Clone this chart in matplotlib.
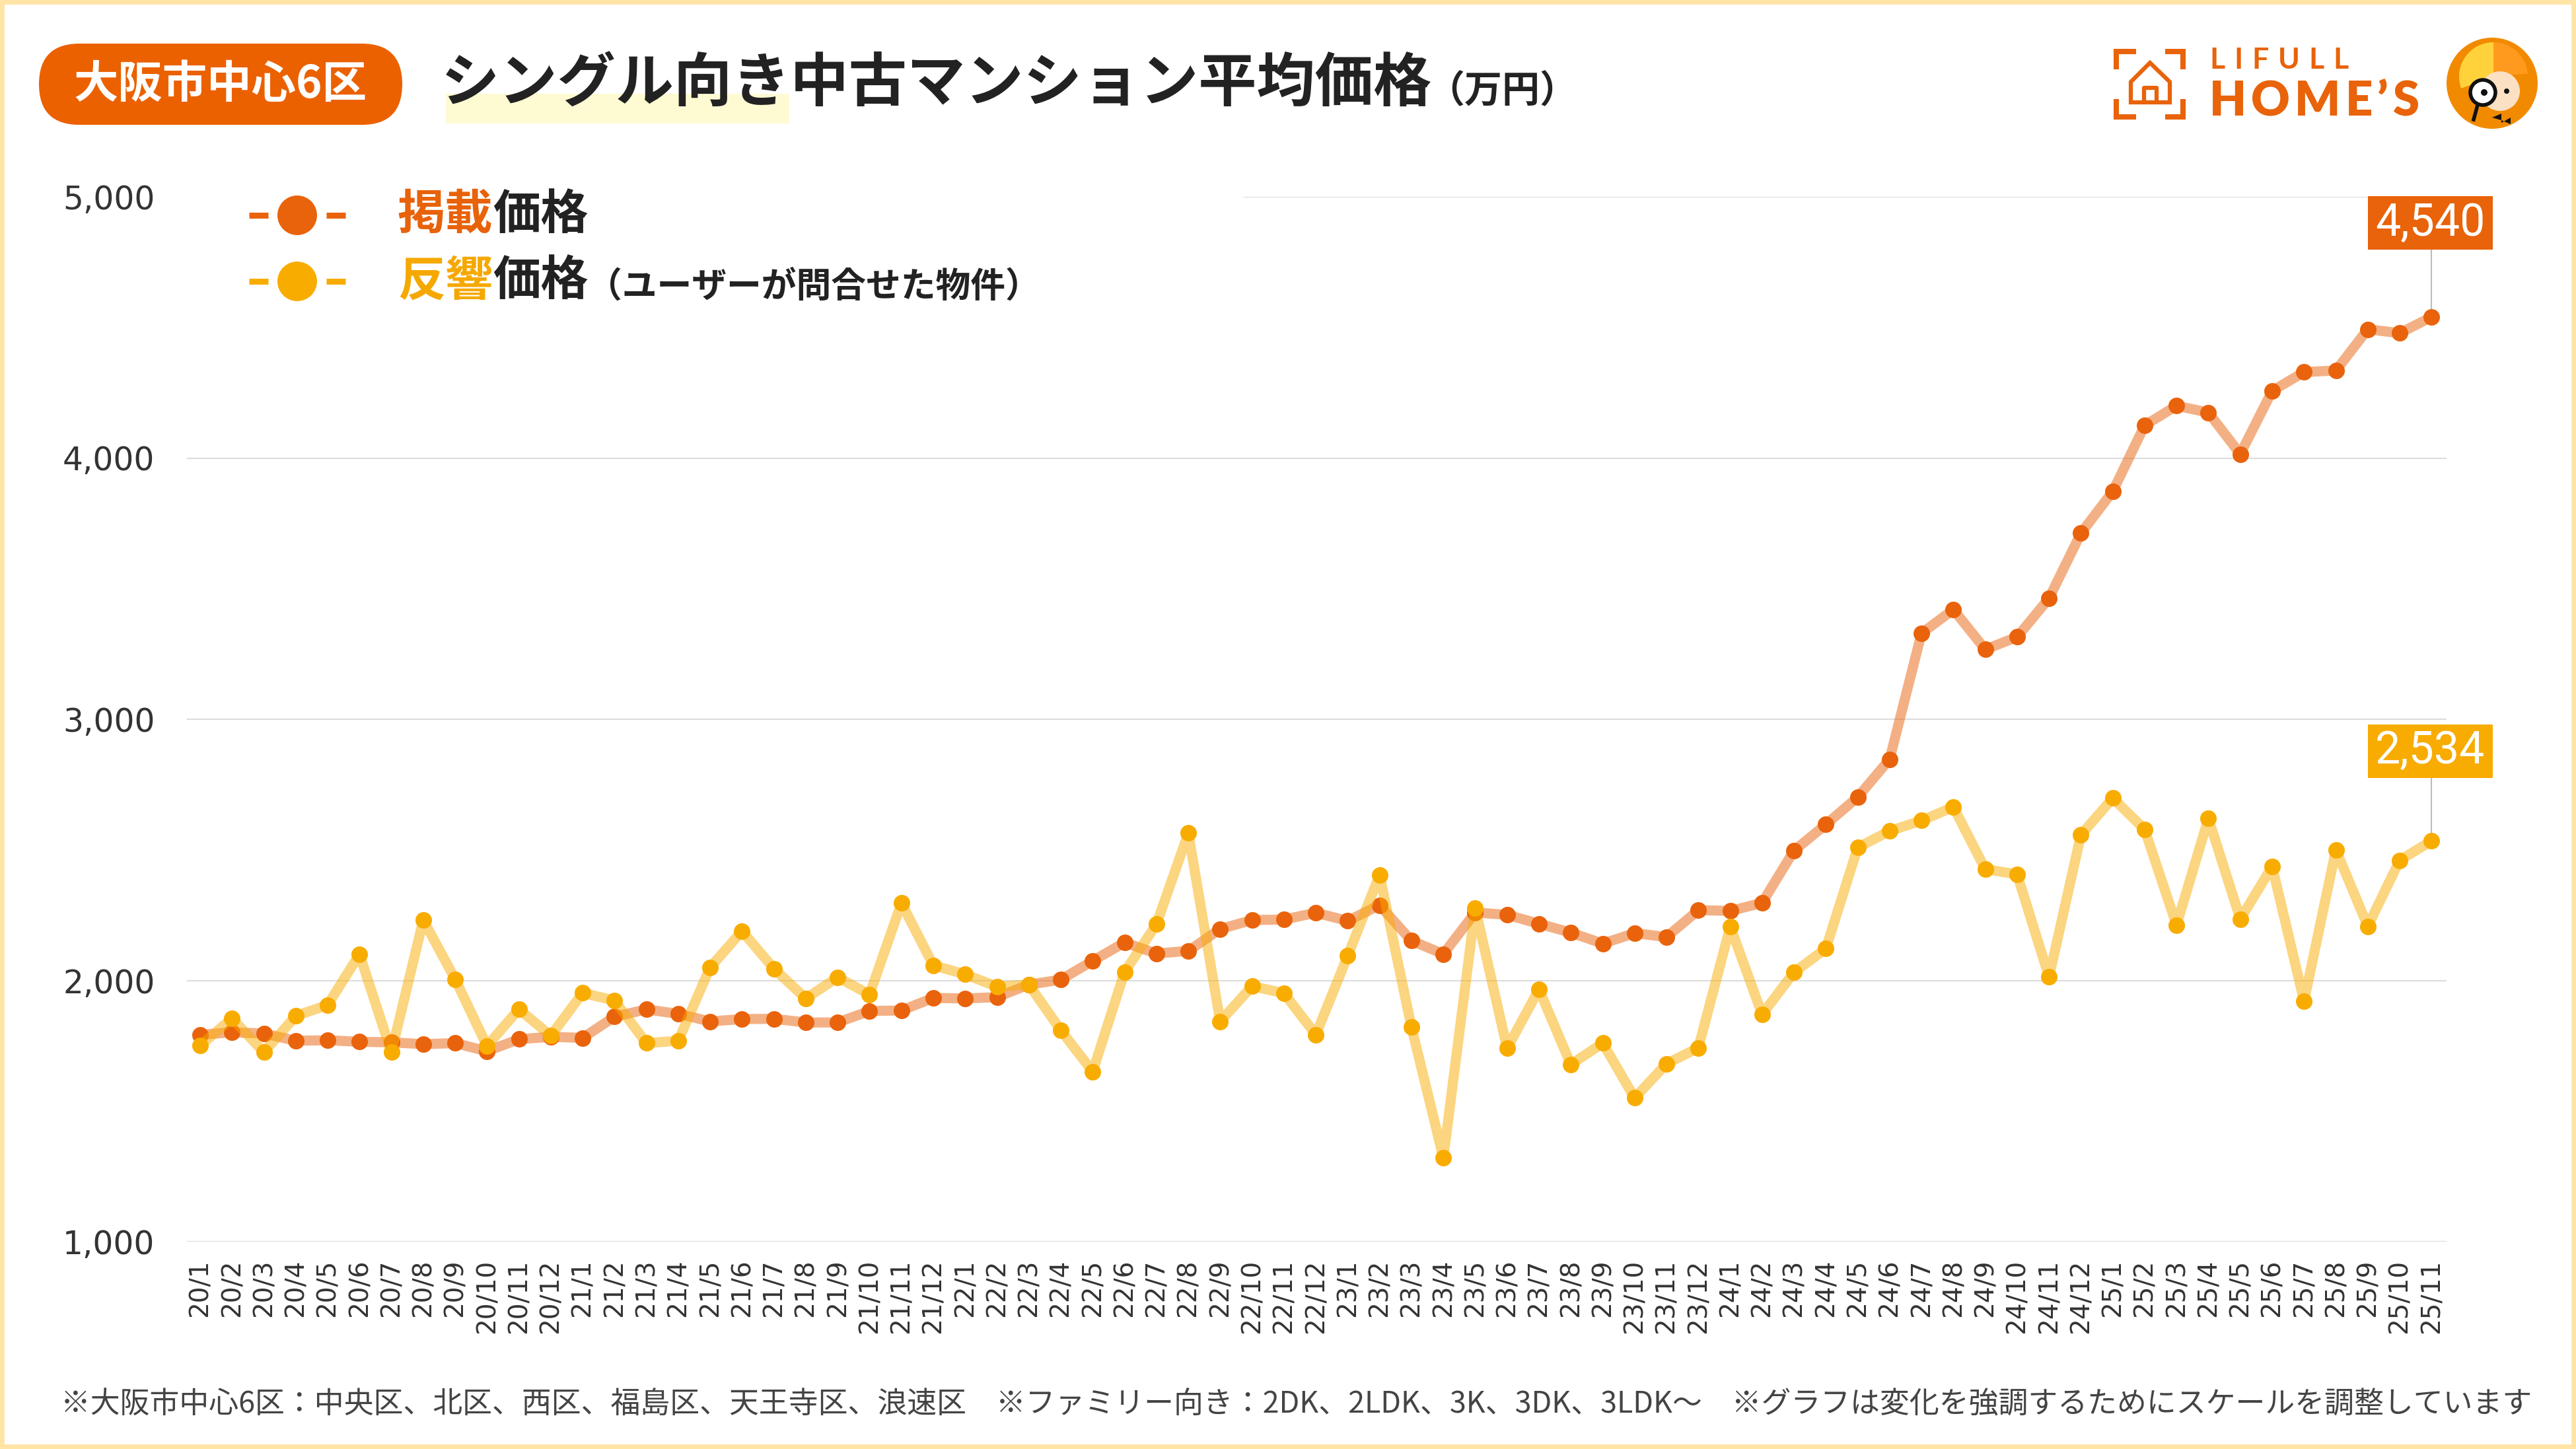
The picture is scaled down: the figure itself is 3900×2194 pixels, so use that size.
import matplotlib
matplotlib.use('Agg')
import matplotlib.pyplot as plt
from matplotlib.patches import FancyBboxPatch, Rectangle, Circle, Wedge, Polygon
from matplotlib.lines import Line2D
from matplotlib.transforms import IdentityTransform

plt.rcParams['font.family'] = ['Noto Sans CJK JP', 'DejaVu Sans']

# ---------------- data ----------------
months = [
    "20/1", "20/2", "20/3", "20/4", "20/5", "20/6", "20/7", "20/8", "20/9", "20/10", "20/11", "20/12",
    "21/1", "21/2", "21/3", "21/4", "21/5", "21/6", "21/7", "21/8", "21/9", "21/10", "21/11", "21/12",
    "22/1", "22/2", "22/3", "22/4", "22/5", "22/6", "22/7", "22/8", "22/9", "22/10", "22/11", "22/12",
    "23/1", "23/2", "23/3", "23/4", "23/5", "23/6", "23/7", "23/8", "23/9", "23/10", "23/11", "23/12",
    "24/1", "24/2", "24/3", "24/4", "24/5", "24/6", "24/7", "24/8", "24/9", "24/10", "24/11", "24/12",
    "25/1", "25/2", "25/3", "25/4", "25/5", "25/6", "25/7", "25/8", "25/9", "25/10", "25/11",
]
listing_price = [
    1792, 1801, 1797, 1769, 1771, 1765, 1763, 1756, 1760, 1729, 1775, 1784,
    1780, 1861, 1889, 1872, 1843, 1852, 1853, 1839, 1839, 1883, 1885, 1933,
    1931, 1936, 1984, 2003, 2075, 2145, 2103, 2113, 2197, 2231, 2233, 2259,
    2228, 2288, 2152, 2101, 2260, 2251, 2217, 2183, 2141, 2181, 2166, 2269,
    2266, 2297, 2497, 2597, 2702, 2847, 3329, 3420, 3267, 3315, 3463, 3712,
    3872, 4125, 4200, 4174, 4015, 4257, 4329, 4335, 4493, 4478, 4540,
]
response_price = [
    1750, 1855, 1725, 1864, 1906, 2100, 1725, 2231, 2005, 1749, 1890, 1788,
    1952, 1923, 1760, 1769, 2050, 2189, 2045, 1931, 2012, 1946, 2296, 2058,
    2023, 1976, 1984, 1809, 1651, 2032, 2215, 2564, 1843, 1978, 1951, 1792,
    2094, 2404, 1821, 1321, 2277, 1740, 1966, 1678, 1760, 1550, 1681, 1742,
    2206, 1870, 2031, 2122, 2509, 2572, 2612, 2664, 2426, 2406, 2013, 2557,
    2698, 2578, 2212, 2620, 2235, 2436, 1921, 2500, 2207, 2460, 2534,
]
y_ticks = [1000, 2000, 3000, 4000, 5000]

title_tag = "大阪市中心6区"
title_main = "シングル向き中古マンション平均価格"
title_unit = "（万円）"
legend_1a, legend_1b = "掲載", "価格"
legend_2a, legend_2b, legend_2c = "反響", "価格", "（ユーザーが問合せた物件）"
footnote = ("※大阪市中心6区：中央区、北区、西区、福島区、天王寺区、浪速区　"
            "※ファミリー向き：2DK、2LDK、3K、3DK、3LDK～　"
            "※グラフは変化を強調するためにスケールを調整しています")

# ---------------- styles ----------------
ORANGE = '#E9630C'
YELLOW = '#F9AC00'
DARK = '#222222'
GRID = '#DDDDDD'

W, H = 3900, 2194
DPI = 100
fig = plt.figure(figsize=(W / DPI, H / DPI), dpi=DPI, facecolor='white')
ID = IdentityTransform()

def Y(y):
    return H - y

# ---------------- axes ----------------
ax = fig.add_axes([283 / W, 1 - 1880 / H, (3704 - 283) / W, (1880 - 298) / H])
ax.set_facecolor('none')
x = list(range(len(months)))
ax.set_xlim(-0.414, 70.47)
ax.set_ylim(1000, 5000)
for s in ax.spines.values():
    s.set_visible(False)

for v in y_ticks:
    ax.axhline(v, color=GRID, lw=1.6, zorder=0, xmin=(0.468 if v == 5000 else 0.0))

ax.plot(x, listing_price, color=ORANGE, lw=11, alpha=0.5, solid_joinstyle='round',
        solid_capstyle='round', zorder=2)
ax.plot(x, listing_price, 'o', color=ORANGE, ms=18, mew=0, zorder=3)
ax.plot(x, response_price, color=YELLOW, lw=11, alpha=0.5, solid_joinstyle='round',
        solid_capstyle='round', zorder=4)
ax.plot(x, response_price, 'o', color=YELLOW, ms=18, mew=0, zorder=5)

ax.set_yticks(y_ticks)
ax.set_yticklabels([f"{v:,}" for v in y_ticks], fontfamily='DejaVu Sans', fontsize=35, color='#333333')
ax.set_xticks(x)
ax.set_xticklabels(months, rotation=90, fontfamily='DejaVu Sans', fontsize=28, color='#333333')
ax.tick_params(axis='y', length=0, pad=35)
ax.tick_params(axis='x', length=0, pad=19)

# end-value labels
def end_label(values, color, dy):
    px, py = ax.transData.transform((x[-1], values[-1]))
    cx, cy = px - 2, py + dy
    bw, bh = 189, 81
    ax.add_line(Line2D([px, px], [py, cy - bh / 2], transform=ID, color='#BBBBBB', lw=1.5,
                       zorder=1, clip_on=False))
    ax.add_patch(Rectangle((cx - bw / 2, cy - bh / 2), bw, bh, transform=ID, facecolor=color,
                           edgecolor='none', zorder=6, clip_on=False))
    ax.text(cx, cy, f"{values[-1]:,}", transform=ID, ha='center', va='center', color='white',
            fontsize=49, fontfamily='Roboto', zorder=7, clip_on=False)

end_label(listing_price, '#E8630A', 142)
end_label(response_price, '#F8AB00', 136)

# ---------------- header ----------------
fig.add_artist(FancyBboxPatch((59, Y(189)), 550, 123, boxstyle='round,pad=0,rounding_size=61.5',
                              transform=ID, facecolor='#EB6100', edgecolor='none'))
fig.text(334, Y(128), title_tag, transform=ID, ha='center', va='center', color='white',
         fontsize=48.5, fontweight='bold')

fig.add_artist(Rectangle((675, Y(187)), 520, 45, transform=ID, facecolor='#FEFBD3', edgecolor='none',
                         zorder=1))
t_title = fig.text(668, Y(128), title_main, transform=ID, ha='left', va='center', color=DARK,
                   fontsize=63.5, fontweight='bold', zorder=3)
ax.annotate(title_unit, xy=(1, 0.5), xycoords=t_title, xytext=(-8, -10), textcoords='offset pixels',
            ha='left', va='center', fontsize=41, fontweight='bold', color=DARK, annotation_clip=False)

# ---------------- legend ----------------
for yy, col in ((326, ORANGE), (426, YELLOW)):
    fig.add_artist(Line2D([377, 406], [Y(yy), Y(yy)], transform=ID, color=col, lw=6.5,
                          solid_capstyle='butt'))
    fig.add_artist(Line2D([494, 523], [Y(yy), Y(yy)], transform=ID, color=col, lw=6.5,
                          solid_capstyle='butt'))
    fig.add_artist(Circle((450, Y(yy)), 30, transform=ID, facecolor=col, edgecolor='none'))

t1 = fig.text(602, Y(326), legend_1a, transform=ID, ha='left', va='center', color='#E8620A',
              fontsize=52, fontweight='bold')
ax.annotate(legend_1b, xy=(1, 0.5), xycoords=t1, ha='left', va='center', fontsize=52,
            fontweight='bold', color=DARK, annotation_clip=False)
t2 = fig.text(602, Y(426), legend_2a, transform=ID, ha='left', va='center', color='#F5A800',
              fontsize=52, fontweight='bold')
t2b = ax.annotate(legend_2b, xy=(1, 0.5), xycoords=t2, ha='left', va='center', fontsize=52,
                  fontweight='bold', color=DARK, annotation_clip=False)
ax.annotate(legend_2c, xy=(1, 0.5), xycoords=t2b, xytext=(-2, -8), textcoords='offset pixels',
            ha='left', va='center', fontsize=38, fontweight='bold', color=DARK, annotation_clip=False)

# ---------------- footnote ----------------
fig.text(92, Y(2127), footnote, transform=ID, ha='left', va='center', color='#444444', fontsize=32.3)

# ---------------- logo ----------------
LOGO = '#E8630A'
lw_b = 5.8
for seg in (
    [(3204, 105), (3204, 78), (3234, 78)],
    [(3278, 78), (3305, 78), (3305, 105)],
    [(3204, 150), (3204, 177), (3234, 177)],
    [(3278, 177), (3305, 177), (3305, 150)],
):
    fig.add_artist(Line2D([p[0] for p in seg], [Y(p[1]) for p in seg], transform=ID, color=LOGO,
                          lw=lw_b, solid_capstyle='butt', solid_joinstyle='miter'))
house = [(3226, 155), (3226, 124), (3255, 95), (3285, 124), (3285, 155)]
fig.add_artist(Polygon([(px, Y(py)) for px, py in house], closed=True, transform=ID, fill=False,
                       edgecolor=LOGO, lw=4.5, joinstyle='miter'))
door = [(3246, 152), (3246, 133), (3265, 133), (3265, 152)]
fig.add_artist(Line2D([p[0] for p in door], [Y(p[1]) for p in door], transform=ID, color=LOGO,
                      lw=4.5, solid_joinstyle='round'))

def spaced(text, x0, yc, size, extra, weight):
    prev = fig.text(x0, Y(yc), text[0], transform=ID, ha='left', va='center', color=LOGO,
                    fontsize=size, fontweight=weight, fontfamily='Lato')
    for ch in text[1:]:
        prev = ax.annotate(ch, xy=(1, 0.5), xycoords=prev, xytext=(extra, 0),
                           textcoords='offset pixels', ha='left', va='center', color=LOGO,
                           fontsize=size, fontweight=weight, fontfamily='Lato', annotation_clip=False)

spaced("LIFULL", 3345, 91, 32, 14, 'bold')
spaced("HOME’S", 3345, 154, 52, 7, 'heavy')

# mascot
cxm, cym = 3773, Y(126)
fig.add_artist(Circle((cxm, cym), 69, transform=ID, facecolor='#F28A00', edgecolor='none'))
fig.add_artist(Wedge((cxm + 2, cym + 10), 52, 90, 200, transform=ID, facecolor='#FFD23C', edgecolor='none'))
fig.add_artist(Wedge((cxm + 2, cym + 10), 52, 5, 90, transform=ID, facecolor='#FF9A1E', edgecolor='none'))
fig.add_artist(Circle((cxm + 12, cym - 12), 30, transform=ID, facecolor='#FBE0C4', edgecolor='none'))
fig.add_artist(Circle((cxm - 14, cym - 14), 19, transform=ID, facecolor='#FFFFFF', edgecolor='#111111', lw=4))
fig.add_artist(Circle((cxm - 12, cym - 14), 5, transform=ID, facecolor='#111111', edgecolor='none'))
fig.add_artist(Circle((cxm + 22, cym - 12), 4, transform=ID, facecolor='#111111', edgecolor='none'))
fig.add_artist(Line2D([cxm - 22, cxm - 28], [cym - 33, cym - 55], transform=ID, color='#111111', lw=4))
fig.add_artist(Polygon([(cxm, cym - 52), (cxm + 14, cym - 46), (cxm + 14, cym - 60), (cxm + 28, cym - 52),
                        (cxm + 28, cym - 62), (cxm + 14, cym - 56)], closed=True, transform=ID,
                       facecolor='#111111', edgecolor='none'))

# ---------------- border ----------------
fig.add_artist(Rectangle((0, 0), W, H, transform=ID, fill=False, edgecolor='#FFE4A6', lw=10))

fig.savefig('out.png', dpi=DPI, facecolor='white')
